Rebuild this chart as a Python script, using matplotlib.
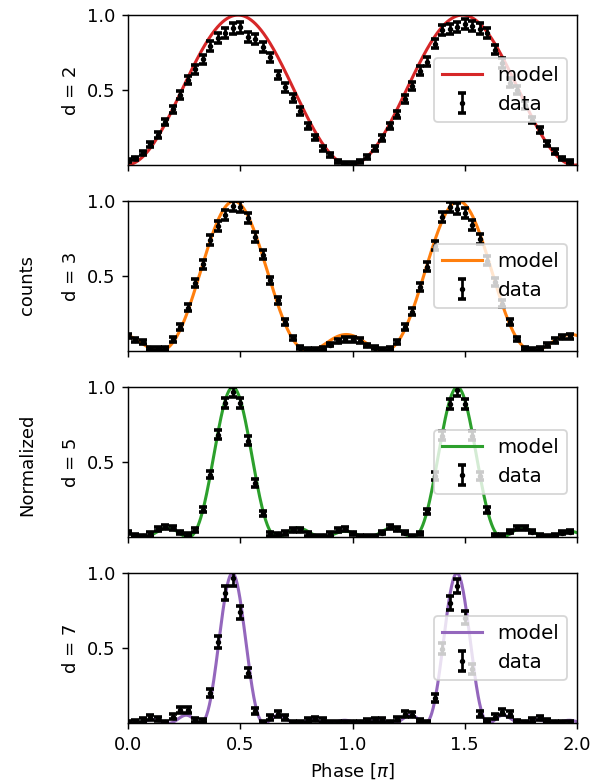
import numpy as np
import matplotlib
matplotlib.use("Agg")
import matplotlib.pyplot as plt

# Number of slits for each panel, the fitted phase offset of its model
# (in units of pi) and the colour of the model curve
slits = [2, 3, 5, 7]
phase_offset = [-0.01, -0.028, -0.033, -0.035]
colors = ["tab:red", "tab:orange", "tab:green", "tab:purple"]

# Measured phase positions (in units of pi)
phase = np.linspace(0.0, 2.0, 60, endpoint=False)

# Normalized counts for each slit number
counts_d2 = [0.03, 0.044, 0.082, 0.14, 0.20, 0.287, 0.371, 0.467, 0.567, 0.64,
             0.704, 0.793, 0.847, 0.882, 0.911, 0.918, 0.856, 0.838, 0.789, 0.718,
             0.60, 0.518, 0.449, 0.36, 0.26, 0.184, 0.113, 0.069, 0.024, 0.01,
             0.01, 0.024, 0.055, 0.113, 0.18, 0.26, 0.335, 0.44, 0.527, 0.63,
             0.69, 0.81, 0.90, 0.905, 0.92, 0.94, 0.927, 0.91, 0.88, 0.77,
             0.68, 0.55, 0.50, 0.40, 0.30, 0.233, 0.144, 0.089, 0.044, 0.022]
counts_d3 = [0.10, 0.076, 0.064, 0.02, 0.016, 0.02, 0.078, 0.16, 0.289, 0.453,
             0.578, 0.742, 0.831, 0.909, 0.967, 0.962, 0.887, 0.76, 0.644, 0.471,
             0.338, 0.193, 0.089, 0.022, 0.011, 0.011, 0.016, 0.044, 0.069, 0.078,
             0.078, 0.071, 0.038, 0.022, 0.011, 0.016, 0.06, 0.16, 0.264, 0.427,
             0.564, 0.704, 0.893, 0.96, 0.95, 0.92, 0.838, 0.749, 0.604, 0.46,
             0.316, 0.193, 0.082, 0.02, 0.011, 0.016, 0.042, 0.071, 0.093, 0.098]
counts_d5 = [0.033, 0.011, 0.007, 0.022, 0.056, 0.067, 0.06, 0.033, 0.016, 0.051,
             0.184, 0.418, 0.684, 0.896, 0.967, 0.896, 0.644, 0.362, 0.16, 0.022,
             0.02, 0.029, 0.051, 0.051, 0.022, 0.007, 0.007, 0.022, 0.051, 0.055,
             0.027, 0.005, 0.005, 0.005, 0.031, 0.067, 0.054, 0.031, 0.005, 0.027,
             0.172, 0.407, 0.676, 0.888, 0.978, 0.888, 0.676, 0.407, 0.183, 0.01,
             0.01, 0.038, 0.06, 0.06, 0.038, 0.01, 0.005, 0.01, 0.031, 0.038]
counts_d7 = [0.007, 0.011, 0.022, 0.04, 0.027, 0.007, 0.044, 0.089, 0.089, 0.022,
             0.018, 0.20, 0.54, 0.867, 0.967, 0.74, 0.338, 0.082, 0.004, 0.04,
             0.062, 0.04, 0.004, 0.004, 0.022, 0.027, 0.022, 0.004, 0.004, 0.004,
             0.007, 0.007, 0.018, 0.022, 0.022, 0.007, 0.029, 0.0625, 0.058, 0.018,
             0.007, 0.17, 0.498, 0.80, 0.915, 0.705, 0.364, 0.0625, 0.018, 0.045,
             0.074, 0.0625, 0.013, 0.007, 0.022, 0.036, 0.018, 0.007, 0.007, 0.007]
all_counts = [counts_d2, counts_d3, counts_d5, counts_d7]

# Shot-noise scale of the error bars per panel
noise_scale = [0.03, 0.03, 0.03, 0.045]


def grating(x, n, offset):
    """Normalized N-slit interference intensity with principal maxima near 0.5 and 1.5."""
    u = np.pi * (x - 0.5 - offset)
    s = np.sin(u)
    with np.errstate(divide="ignore", invalid="ignore"):
        val = np.sin(n * u) / (n * s)
    val = np.where(np.abs(s) < 1e-12, 1.0, val)
    return val ** 2


dpi = 130
fig, axes = plt.subplots(4, 1, sharex=True, figsize=(600 / dpi, 783 / dpi), dpi=dpi)
fig.subplots_adjust(left=0.2133, right=0.9617, bottom=0.0762, top=0.9808, hspace=0.24)

x_model = np.linspace(0.0, 2.0, 1000)
for ax, n, off, col, vals, ns in zip(axes, slits, phase_offset, colors,
                                      all_counts, noise_scale):
    vals = np.asarray(vals)
    err = ns * np.sqrt(vals) + 0.006
    ax.plot(x_model, grating(x_model, n, off), color=col, lw=1.7, label="model")
    ax.errorbar(phase, vals, yerr=err, fmt=".", color="black", ms=4,
                elinewidth=1.5, capsize=2.2, capthick=2, label="data")
    ax.set_xlim(0, 2)
    ax.set_ylim(0, 1)
    ax.set_yticks([0.5, 1.0])
    ax.set_ylabel(f"d = {n}")
    ax.legend(loc="center right", fontsize=11)

axes[-1].set_xticks([0.0, 0.5, 1.0, 1.5, 2.0])
axes[-1].set_xlabel(r"Phase [$\pi$]")

fig.text(0.045, 1 - 465 / 783, "Normalized", rotation=90, ha="center", va="center")
fig.text(0.045, 1 - 285 / 783, "counts", rotation=90, ha="center", va="center")

fig.savefig("out.png", dpi=dpi)
